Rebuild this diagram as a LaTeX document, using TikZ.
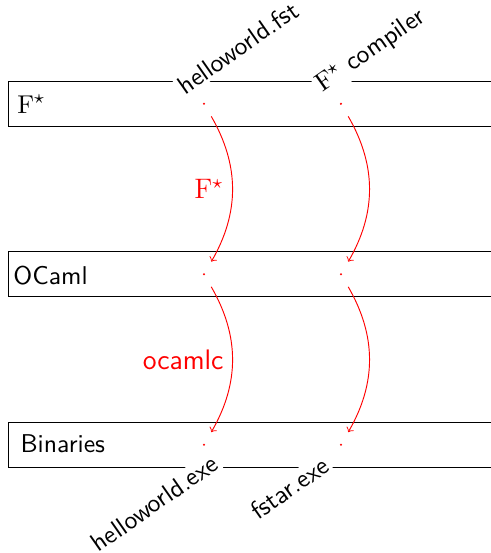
\documentclass[11pt,tikz,border=0pt]{standalone}
\renewcommand{\familydefault}{\sfdefault}
\begin{document}
\begin{tikzpicture}[
        layer/.style={draw, anchor=west, minimum width=7.9cm, minimum height=0.67cm, inner sep=0pt},
        spot/.style={circle, minimum size=0.42cm, inner sep=0pt},
        tilted/.style={rotate=35, fill=white, inner sep=1pt},
        step arrow/.style={->, red}
    ]
        \clip (0,0) rectangle (7.345,8.273);

        % Draw layers
        \node[layer] (fstar) at (0.12,6.72) {};
        \node[layer] (ocaml) at (0.12,4.17) {};
        \node[layer] (bin) at (0.12,1.62) {};
        \node[anchor=base west, inner sep=0pt] (fstarname) at (0.254,6.582) {$\mathrm{F}^\star$};
        \node[anchor=base west, inner sep=0pt] (ocamlname) at (0.194,4.024) {OCaml};
        \node[anchor=base west, inner sep=0pt] (binname) at (0.30,1.496) {Binaries};

        % Draw nodes
        \node[spot] (src) at (3.052,6.72) {};
        \node[spot] (cmp) at (5.101,6.72) {};
        \node[spot] (srcml) at (3.052,4.17) {};
        \node[spot] (cmpml) at (5.101,4.17) {};
        \node[spot] (srcexe) at (3.052,1.62) {};
        \node[spot] (cmpexe) at (5.101,1.62) {};
        \foreach \n in {src, cmp, srcml, cmpml, srcexe, cmpexe}
            \fill[red] (\n) circle (0.5pt);

        % Draw connections
        \draw[step arrow] (src) to[bend left] node[midway, left] {\large$\mathrm{F}^\star$} (srcml);
        \draw[step arrow] (srcml) to[bend left] node[midway, left] {\large ocamlc} (srcexe);
        \draw[step arrow] (cmp) to[bend left] (cmpml);
        \draw[step arrow] (cmpml) to[bend left] (cmpexe);

        % Labels
        \node[tilted, anchor=base west] (fstfile) at (2.74,6.822) {helloworld.fst};
        \node[tilted, anchor=base west] (cmpsrc) at (4.79,6.86) {$\mathrm{F}^\star$ compiler};
        \node[tilted, anchor=base east] (hwexe) at (3.33,1.30) {helloworld.exe};
        \node[tilted, anchor=base east] (fsexe) at (4.99,1.27) {fstar.exe};
    \end{tikzpicture}
\end{document}
